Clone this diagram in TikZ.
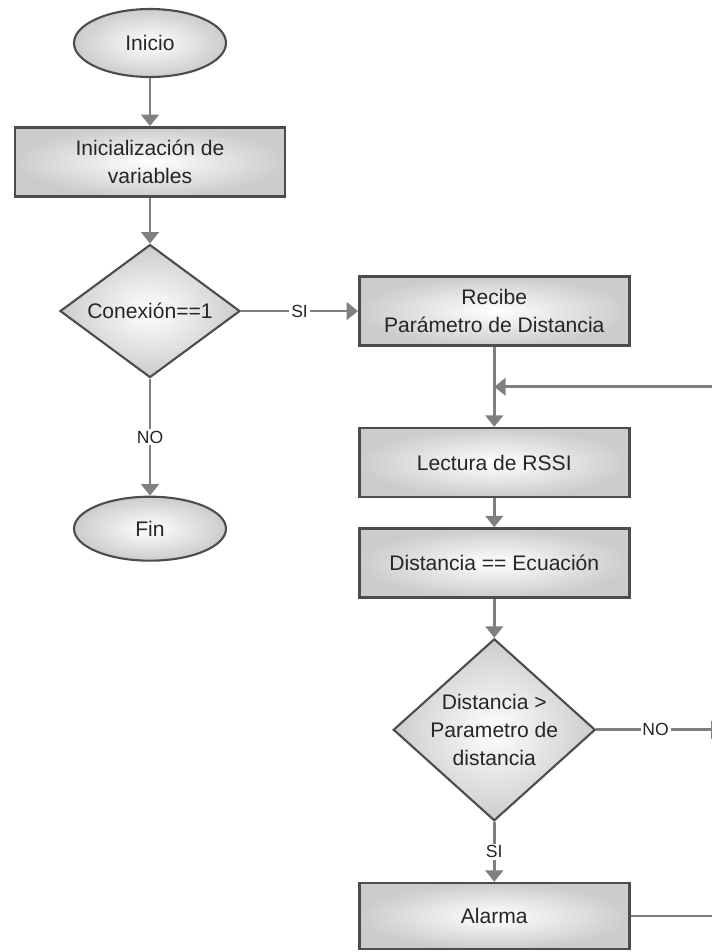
\documentclass[tikz,border=0pt]{standalone}
\usepackage{fontspec}
\setmainfont{Liberation Sans}
\usetikzlibrary{shapes,arrows,arrows.meta,positioning,calc}

\begin{document}
\begin{tikzpicture}[>={Triangle[width=10pt,length=6.5pt]}, font=\fontsize{12}{16}\selectfont]
    \tikzstyle{startstop} = [draw=black!70, ellipse, line width=1.2pt, inner color=white, outer color=gray!40, minimum width=3.04cm, minimum height=1.36cm, text=black!85]
    \tikzstyle{process} = [draw=black!70, rectangle, line width=1.4pt, inner color=white, outer color=gray!40, minimum width=5.4cm, minimum height=1.38cm, align=center, text=black!85]
    \tikzstyle{decision} = [draw=black!70, diamond, line width=1.2pt, inner color=white, outer color=gray!40, inner sep=0pt, align=center, text=black!85]
    \tikzstyle{line} = [draw=gray, line width=1.6pt]
    \tikzstyle{tag} = [fill=white, inner sep=1pt, font=\fontsize{10}{12}\selectfont, text=black!85]

    \useasboundingbox (0,0) rectangle (14.22,-19.04);

    \node [startstop] (inicio) at (3.0,-0.86) {Inicio};
    \node [process, below=0.96cm of inicio] (init) {Inicialización de\\variables};
    \node [decision, aspect=1.35, minimum width=3.6cm, minimum height=2.66cm, below=0.92cm of init] (con) {Conexión==1};
    \node [startstop, minimum height=1.28cm, below=2.34cm of con] (fin) {Fin};

    \node [process, right=2.34cm of con] (recibe) {Recibe\\Parámetro de Distancia};
    \node [process, below=1.6cm of recibe] (lectura) {Lectura de RSSI};
    \node [process, below=0.58cm of lectura] (ecuacion) {Distancia == Ecuación};
    \node [decision, aspect=1.11, inner sep=-3.5pt, minimum width=4.04cm, minimum height=3.64cm, below=0.78cm of ecuacion] (dist) {Distancia >\\Parametro de\\distancia};
    \node [process, minimum height=1.32cm, below=1.2cm of dist] (alarma) {Alarma};

    % lines leaving the right edge
    \coordinate (rim) at (14.45,0);
    \coordinate (loopin) at ($(recibe.south)!0.5!(lectura.north)$);

    \draw [line, ->] (inicio) -- (init);
    \draw [line, ->] (init) -- (con);
    \draw [line, ->] (con) -- node [tag] {NO} (fin);
    \draw [line, ->] (con) -- node [tag] {SI} (recibe);
    \draw [line, ->] (recibe) -- (lectura);
    \draw [line, ->] (loopin -| rim) -- (loopin);
    \draw [line, ->] (lectura) -- (ecuacion);
    \draw [line, ->] (ecuacion) -- (dist);
    \draw [line, ->] (dist) -- node [tag, pos=0.47] {NO} (dist.east -| rim);
    \draw [line, ->] (dist) -- node [tag] {SI} (alarma);
    \draw [line] (alarma) -- (alarma.east -| rim);
\end{tikzpicture}
\end{document}
